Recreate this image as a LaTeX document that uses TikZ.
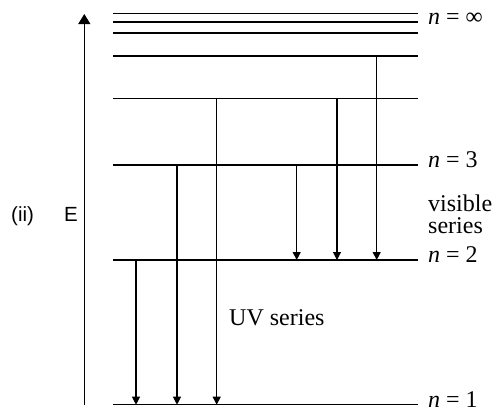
\documentclass[tikz,border=0pt]{standalone}
\usepackage{fontspec}
\setmainfont{Liberation Serif}
\newfontfamily\labsans{Liberation Sans}
\usetikzlibrary{arrows.meta}
\begin{document}
\begin{tikzpicture}[x=1pt,y=-1pt,
  level/.style={line width=1.1pt},
  trans/.style={line width=1.1pt,-{Triangle[width=8pt,length=8pt]}},
  axis/.style={line width=1.1pt,-{Triangle[width=12pt,length=10pt]}},
  lvllabel/.style={anchor=base west,inner sep=0pt,font=\fontsize{24}{24}\selectfont,yshift=-0.23em},
  serlabel/.style={anchor=base west,inner sep=0pt,font=\fontsize{24}{20}\selectfont},
  sanslabel/.style={anchor=base west,inner sep=0pt,font=\labsans\fontsize{20.5}{20.5}\selectfont}]
\useasboundingbox (0,0) rectangle (500,413);
% level coordinates (left and right ends)
\foreach \n/\y in {1/404.7,2/260,3/165,4/98.7,5/56,6/33,7/22,8/13.7}{
  \coordinate (l\n) at (113,\y);
  \coordinate (r\n) at (418,\y);
}
\foreach \n in {1,...,8}{\draw[level] (l\n) -- (r\n);}
% arrow x positions
\coordinate (xa) at (136,0);
\coordinate (xb) at (177,0);
\coordinate (xc) at (216.7,0);
\coordinate (xd) at (296.7,0);
\coordinate (xe) at (337,0);
\coordinate (xf) at (376.7,0);
% UV series
\draw[trans] (xa |- l2) -- (xa |- l1);
\draw[trans] (xb |- l3) -- (xb |- l1);
\draw[trans] (xc |- l4) -- (xc |- l1);
% visible series
\draw[trans] (xd |- l3) -- (xd |- l2);
\draw[trans] (xe |- l4) -- (xe |- l2);
\draw[trans] (xf |- l5) -- (xf |- l2);
% energy axis
\coordinate (ebot) at (84.3,405);
\coordinate (etop) at (84.3,14);
\draw[axis] (ebot) -- (etop);
% labels
\node[lvllabel] (ninf) at ([xshift=10pt]r7) {\textit{n} = ∞};
\node[lvllabel] (n3) at ([xshift=10pt]r3) {\textit{n} = 3};
\node[lvllabel] (n2) at ([xshift=10pt]r2) {\textit{n} = 2};
\node[lvllabel] (n1) at ([xshift=10pt]r1) {\textit{n} = 1};
\node[serlabel] (vis1) at (428,211) {visible};
\node[serlabel] (vis2) at (428,233) {series};
\node[serlabel] (uv) at (229,325) {UV series};
\node[sanslabel] (ii) at (11,221) {(ii)};
\node[sanslabel] (E) at (64,221) {E};
\end{tikzpicture}
\end{document}
